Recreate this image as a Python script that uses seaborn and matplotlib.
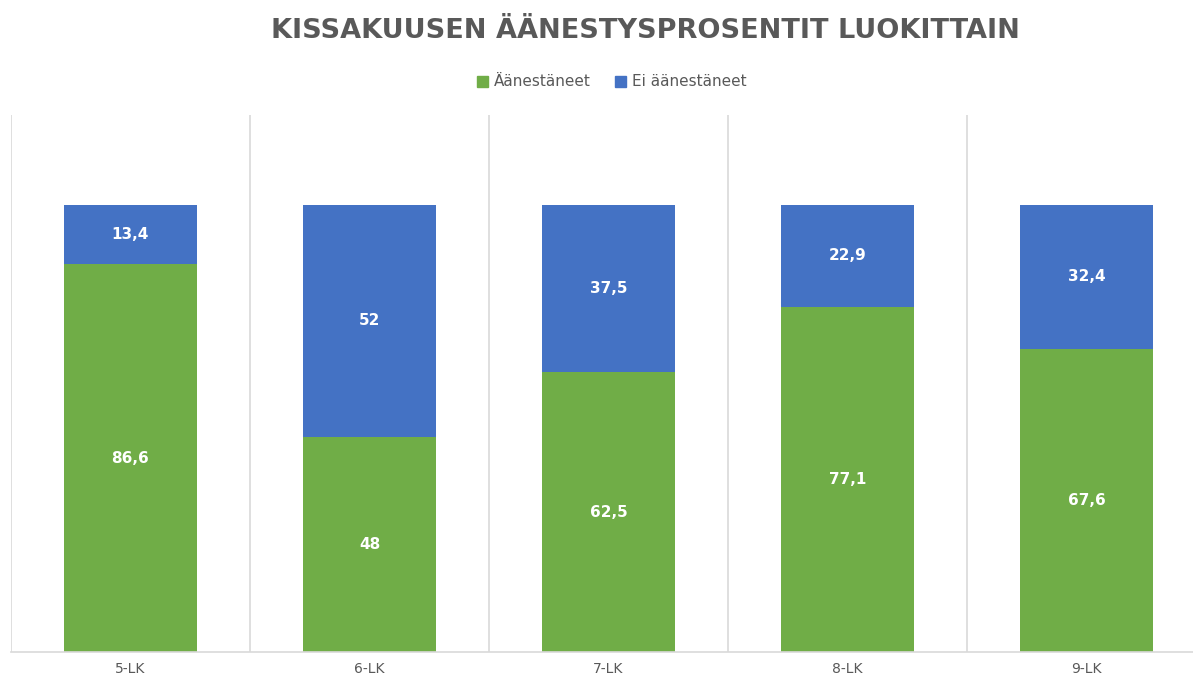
import numpy as np
import matplotlib
matplotlib.use("Agg")
import matplotlib.pyplot as plt
from matplotlib.patches import Patch
import seaborn as sns

# data
luokat = ["5-LK", "6-LK", "7-LK", "8-LK", "9-LK"]
aanestaneet = [86.6, 48, 62.5, 77.1, 67.6]
ei_aanestaneet = [13.4, 52, 37.5, 22.9, 32.4]
sarjat = ["Äänestäneet", "Ei äänestäneet"]

vihrea = "#70AD47"
sininen = "#4472C4"
harmaa = "#595959"
viiva = "#D9D9D9"

sns.set_theme(style="white")
plt.rcParams['font.family'] = ['DejaVu Sans']

fig = plt.figure(figsize=(11.93, 6.81), dpi=100)
ax = fig.add_axes([11/1193, 29/681, 1195/1193, 537/681])

sns.barplot(x=luokat, y=aanestaneet, color=vihrea, width=0.556, saturation=1,
            linewidth=0, ax=ax)
sns.barplot(x=luokat, y=ei_aanestaneet, color=sininen, width=0.556, saturation=1,
            linewidth=0, bottom=aanestaneet, ax=ax)

def fmt(v):
    return str(v).replace(".", ",") if v != int(v) else str(int(v))

ax.bar_label(ax.containers[0], labels=[fmt(v) for v in aanestaneet], label_type="center",
             color="white", fontsize=11, fontweight="bold")
ax.bar_label(ax.containers[1], labels=[fmt(v) for v in ei_aanestaneet], label_type="center",
             color="white", fontsize=11, fontweight="bold")

ax.set_ylim(0, 120)
ax.set_xlim(-0.5, 4.5)
ax.set_yticks([])
ax.set_xticks(range(len(luokat)))
ax.set_xticklabels(luokat, color=harmaa, fontsize=10)
ax.set_xticks(np.arange(-0.5, 5, 1), minor=True)
ax.tick_params(axis="x", which="both", length=0, pad=7)
ax.grid(True, axis="x", which="minor", color=viiva, linewidth=1.2)
ax.grid(False, axis="x", which="major")
ax.set_axisbelow(True)
for s in ["top", "right", "left"]:
    ax.spines[s].set_visible(False)
ax.spines["bottom"].set_color(viiva)
ax.spines["bottom"].set_linewidth(1.2)
ax.set_xlabel("")
ax.set_ylabel("")

fig.text(645/1193, 1 - 31/681, "KISSAKUUSEN ÄÄNESTYSPROSENTIT LUOKITTAIN",
         ha="center", va="center", fontsize=19.5, fontweight="bold", color=harmaa)

kahvat = [Patch(color=vihrea, label=sarjat[0]), Patch(color=sininen, label=sarjat[1])]
fig.legend(handles=kahvat, loc="center", bbox_to_anchor=(612/1193, 1 - 82/681), ncol=2,
           frameon=False, fontsize=11, labelcolor=harmaa, handlelength=0.7, handleheight=0.7,
           handletextpad=0.4, columnspacing=1.6)

fig.savefig("out.png", dpi=100)
